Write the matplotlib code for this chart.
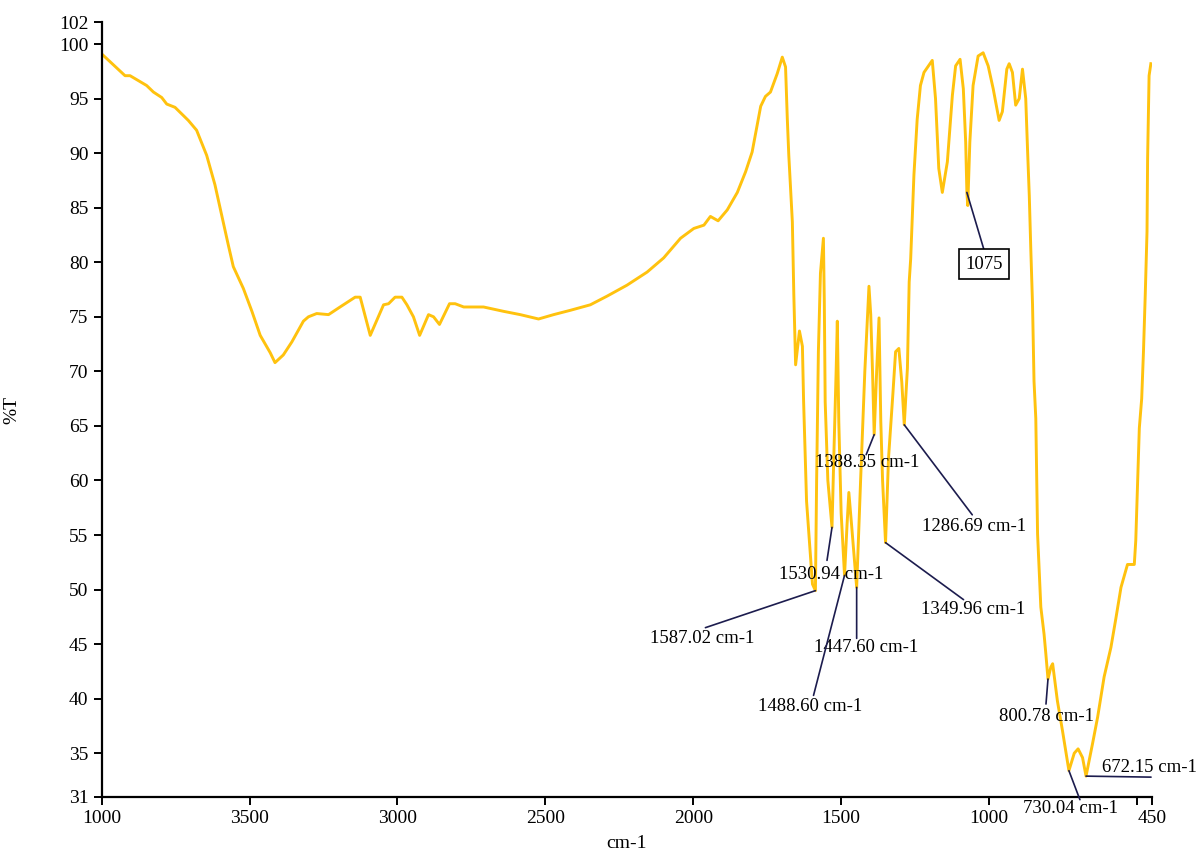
import matplotlib.pyplot as plt

plt.rcParams["font.family"] = ["Liberation Serif", "DejaVu Serif"]

# FTIR transmittance spectrum (wavenumber in cm-1, %T)
wavenumber = [
    4000, 3921, 3904, 3848, 3825, 3797, 3780, 3752, 3707, 3679, 3645, 3617,
    3594, 3572, 3555, 3521, 3492, 3464, 3430, 3414, 3386, 3357, 3318, 3301,
    3273, 3233, 3194, 3143, 3126, 3092, 3047, 3030, 3008, 2985, 2968, 2946,
    2925, 2895, 2878, 2858, 2824, 2805, 2776, 2709, 2641, 2585, 2523, 2472,
    2415, 2348, 2291, 2224, 2156, 2100, 2043, 1998, 1964, 1942, 1916, 1885,
    1851, 1823, 1801, 1772, 1756, 1739, 1716, 1699, 1688, 1682, 1677, 1665,
    1660, 1657, 1654, 1641, 1631, 1627, 1617, 1604, 1597, 1587.02, 1583, 1577,
    1570, 1560, 1557, 1554, 1545, 1530.94, 1525, 1517, 1513, 1508, 1500,
    1488.60, 1480, 1474, 1465, 1447.60, 1434, 1420, 1406, 1400, 1394,
    1388.35, 1380, 1372, 1366, 1360, 1349.96, 1340, 1325, 1316, 1305, 1295,
    1286.69, 1276, 1270, 1265, 1254, 1243, 1232, 1220, 1192, 1181, 1170, 1158,
    1141, 1124, 1113, 1098, 1087, 1079, 1075, 1072, 1065, 1054, 1037, 1020,
    1003, 986, 966, 955, 940, 932, 921, 910, 898, 887, 876, 870, 864, 859,
    853, 848, 842, 836, 825, 814, 808, 800.78, 791, 785, 769, 752, 730.04,
    712, 699, 684, 672.15, 650, 633, 611, 588, 571, 554, 532, 509, 504, 498,
    492, 484, 478, 472, 466, 464, 459, 453,
]
transmittance = [
    99.1, 97.1, 97.1, 96.2, 95.6, 95.1, 94.5, 94.2, 93.0, 92.1, 89.8, 87.1,
    84.3, 81.6, 79.6, 77.6, 75.5, 73.3, 71.7, 70.8, 71.5, 72.7, 74.6, 75.0,
    75.3, 75.2, 75.9, 76.8, 76.8, 73.3, 76.1, 76.2, 76.8, 76.8, 76.1, 75.0,
    73.3, 75.2, 75.0, 74.3, 76.2, 76.2, 75.9, 75.9, 75.5, 75.2, 74.8, 75.2,
    75.6, 76.1, 76.9, 77.9, 79.1, 80.4, 82.2, 83.1, 83.4, 84.2, 83.8, 84.8,
    86.4, 88.3, 90.1, 94.3, 95.2, 95.6, 97.3, 98.8, 97.9, 93.1, 89.8, 83.7,
    77.0, 73.7, 70.6, 73.7, 72.3, 67.3, 58.1, 53.1, 50.5, 49.9, 59.9, 71.8,
    79.0, 82.2, 76.4, 67.2, 60.0, 55.7, 62.0, 70.0, 74.6, 65.4, 57.0,
    51.3, 56.0, 58.9, 56.0, 50.2, 60.2, 70.0, 77.8, 75.2, 70.0,
    64.2, 70.0, 74.9, 65.4, 60.0, 54.3, 62.0, 68.0, 71.8, 72.1, 69.0,
    65.1, 70.3, 78.2, 80.3, 88.0, 93.1, 96.2, 97.4, 98.5, 95.0, 88.6, 86.4,
    89.2, 95.3, 98.0, 98.6, 95.9, 91.0, 86.4, 85.2, 91.0, 96.2, 98.9, 99.2,
    98.0, 95.9, 93.0, 93.8, 97.7, 98.2, 97.4, 94.4, 95.0, 97.7, 95.0, 90.4,
    86.1, 81.3, 76.1, 69.1, 65.7, 55.1, 48.4, 45.9, 44.1, 41.8, 42.9, 43.2,
    39.8, 37.1, 33.4, 35.0, 35.4, 34.6, 32.9, 35.9, 38.3, 42.0, 44.7, 47.4,
    50.2, 52.3, 52.3, 54.5, 59.6, 64.8, 67.5, 71.8, 77.0, 82.8, 89.5, 97.1,
    98.2,
]

# labelled bands
peak_wn = [1388.35, 1286.69, 1349.96, 1530.94, 1587.02, 1447.60, 1488.60,
           800.78, 730.04, 672.15]
peak_t = [64.2, 65.1, 54.3, 55.7, 49.9, 50.2, 51.3, 41.8, 33.4, 32.9]
boxed_wn = 1075
boxed_t = 86.4

# leader line end and text centre, in pixel offsets from the band
line_off = [(-8, -20), (68, -90), (78, -57), (-5, -33), (-110, -37), (0, -51),
            (-31, -120), (-2, -25), (11, -29), (65, -1)]
text_off = [(-7, -28), (70, -102), (88, -67), (-1, -47), (-113, -48), (9, -60),
            (-34, -131), (-1, -37), (2, -38), (63, 9)]

xticks = [4000, 3500, 3000, 2500, 2000, 1500, 1000, 500, 450]
xtick_labels = ["1000", "3500", "3000", "2500", "2000", "1500", "1000", "", "450"]
yticks = [31, 35, 40, 45, 50, 55, 60, 65, 70, 75, 80, 85, 90, 95, 100, 102]

fig = plt.figure(figsize=(11.96, 8.55), dpi=100)
ax = fig.add_axes([0.085, 0.068, 0.878, 0.906])

ax.plot(wavenumber, transmittance, color="#FFC20E", lw=2.1, solid_joinstyle="round")

navy = "#1c1c4e"
for wn, t, lo, to in zip(peak_wn, peak_t, line_off, text_off):
    ax.annotate("", xy=(wn, t), xytext=lo, textcoords="offset pixels",
                arrowprops=dict(arrowstyle="-", color=navy, lw=1.2,
                                shrinkA=0, shrinkB=0))
    ax.annotate(f"{wn:.2f} cm-1", xy=(wn, t), xytext=to, textcoords="offset pixels",
                ha="center", va="center", fontsize=13.5, color="black",
                annotation_clip=False)

ax.annotate("", xy=(boxed_wn, boxed_t), xytext=(17, -57), textcoords="offset pixels",
            arrowprops=dict(arrowstyle="-", color=navy, lw=1.2, shrinkA=0, shrinkB=0))
ax.annotate(str(boxed_wn), xy=(boxed_wn, boxed_t), xytext=(17, -72),
            textcoords="offset pixels", ha="center", va="center", fontsize=13.5,
            bbox=dict(boxstyle="square,pad=0.35", fc="white", ec="black", lw=1.2))

ax.set_xlim(4000, 450)
ax.set_ylim(31, 102)
ax.set_xticks(xticks)
ax.set_xticklabels(xtick_labels)
ax.set_yticks(yticks)
ax.set_yticklabels([str(v) for v in yticks])

for side in ["top", "right"]:
    ax.spines[side].set_visible(False)
for side in ["left", "bottom"]:
    ax.spines[side].set_linewidth(1.6)
ax.tick_params(direction="out", length=6, width=1.4, labelsize=14)

ax.set_xlabel("cm-1", fontsize=14, labelpad=6)
ax.set_ylabel("%T", fontsize=14, labelpad=28)

fig.savefig("out.png", dpi=100)
